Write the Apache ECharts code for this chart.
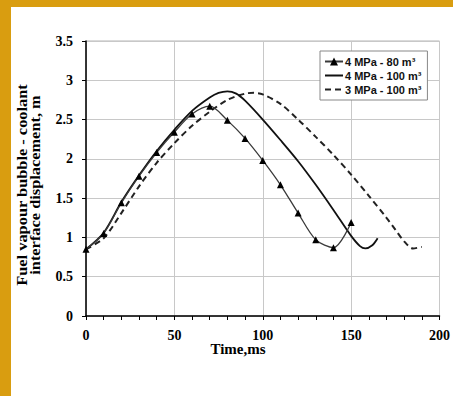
<!DOCTYPE html>
<html>
<head>
<meta charset="utf-8">
<script src="https://cdn.jsdelivr.net/npm/echarts@6/dist/echarts.min.js"></script>
<style>
  body { margin: 0; background: #fff; }
  #frame {
    width: 453px; height: 396px; box-sizing: border-box;
    background: #fff;
    border-top: 7px solid #D99D10;
    border-left: 11px solid #D99D10;
  }
  #chart { width: 442px; height: 389px; }
</style>
</head>
<body>
<div id="frame"><div id="chart"></div></div>
<script>
// 4 MPa - 80 m3 (markers every 10 ms)
const time80 = [0, 10, 20, 30, 40, 50, 60, 70, 80, 90, 100, 110, 120, 130, 140, 150];
const disp80 = [0.85, 1.05, 1.44, 1.78, 2.08, 2.34, 2.57, 2.67, 2.49, 2.26, 1.98, 1.67, 1.31, 0.97, 0.87, 1.19];

// 4 MPa - 100 m3
const time4x100 = [0, 10, 20, 30, 40, 50, 60, 70, 75, 80, 85, 90, 100, 110, 120, 130, 140, 150, 155, 158, 162, 165];
const disp4x100 = [0.85, 1.06, 1.45, 1.79, 2.1, 2.37, 2.61, 2.78, 2.84, 2.86, 2.83, 2.74, 2.5, 2.24, 1.97, 1.67, 1.35, 1.02, 0.89, 0.86, 0.9, 0.99];

// 3 MPa - 100 m3
const time3x100 = [0, 10, 20, 30, 40, 50, 60, 70, 80, 90, 95, 100, 110, 120, 130, 140, 150, 160, 170, 175, 180, 185, 190];
const disp3x100 = [0.85, 0.99, 1.31, 1.65, 1.95, 2.2, 2.42, 2.6, 2.75, 2.83, 2.84, 2.82, 2.7, 2.5, 2.28, 2.05, 1.8, 1.53, 1.25, 1.1, 0.95, 0.86, 0.88];

const seriesNames = ['4 MPa - 80 m³', '4 MPa - 100 m³', '3 MPa - 100 m³'];

const pairs = (xs, ys) => xs.map((x, i) => [x, ys[i]]);

const SERIF = '"Liberation Serif", "Times New Roman", serif';
const chart = echarts.init(document.getElementById('chart'), null, { renderer: 'svg' });

const option = {
  animation: false,
  backgroundColor: '#fff',
  grid: {
    left: 75, right: 6, top: 34, bottom: 80,
    show: true, borderColor: '#b4b4b4', borderWidth: 1,
  },
  legend: {
    orient: 'vertical',
    left: 309, top: 44,
    padding: [5, 6, 5, 4],
    itemGap: 3,
    itemWidth: 18,
    itemHeight: 10,
    backgroundColor: '#fff',
    borderColor: '#888',
    borderWidth: 1,
    data: [
      { name: seriesNames[0] },
      { name: seriesNames[1], itemStyle: { opacity: 0 } },
      { name: seriesNames[2], itemStyle: { opacity: 0 } },
    ],
    textStyle: { fontFamily: '"Liberation Sans", Arial, sans-serif', fontWeight: 'bold', fontSize: 11, color: '#111', padding: [0, 0, 0, -3] },
  },
  xAxis: {
    type: 'value',
    min: 0, max: 200, interval: 50,
    axisLine: { show: true, onZero: false, lineStyle: { color: '#000', width: 1.5 } },
    axisTick: { show: true, length: 4, lineStyle: { color: '#000' } },
    minorTick: { show: true, splitNumber: 5, length: 4, lineStyle: { color: '#000' } },
    axisLabel: { margin: 12, color: '#000', fontFamily: SERIF, fontWeight: 'bold', fontSize: 14 },
    splitLine: { show: true, lineStyle: { color: '#c8c8c8', width: 1 } },
  },
  yAxis: {
    type: 'value',
    min: 0, max: 3.5, interval: 0.5,
    axisLine: { show: true, onZero: false, lineStyle: { color: '#000', width: 1.5 } },
    axisTick: { show: true, length: 4, lineStyle: { color: '#000' } },
    axisLabel: { margin: 13, color: '#000', fontFamily: SERIF, fontWeight: 'bold', fontSize: 14 },
    splitLine: { show: true, lineStyle: { color: '#c8c8c8', width: 1 } },
  },
  graphic: [
    {
      type: 'text',
      x: 17, y: 178,
      rotation: Math.PI / 2,
      scaleX: 1.17,
      style: {
        text: 'Fuel vapour bubble - coolant\ninterface displacement, m',
        font: 'bold 14px ' + SERIF,
        lineHeight: 13,
        textAlign: 'center',
        textVerticalAlign: 'middle',
        fill: '#000',
      },
    },
    {
      type: 'text',
      x: 227, y: 342,
      style: {
        text: 'Time,ms',
        font: 'bold 15px ' + SERIF,
        textAlign: 'center',
        textVerticalAlign: 'middle',
        fill: '#000',
      },
    },
  ],
  series: [
    {
      name: seriesNames[0],
      type: 'line',
      smooth: 0.3,
      data: pairs(time80, disp80),
      symbol: 'triangle',
      symbolSize: 7,
      itemStyle: { color: '#000' },
      lineStyle: { color: '#3a3a3a', width: 1.3 },
      z: 4,
    },
    {
      name: seriesNames[1],
      type: 'line',
      smooth: 0.3,
      data: pairs(time4x100, disp4x100),
      showSymbol: false,
      itemStyle: { color: '#111' },
      lineStyle: { color: '#111', width: 1.8 },
      z: 3,
    },
    {
      name: seriesNames[2],
      type: 'line',
      smooth: 0.3,
      data: pairs(time3x100, disp3x100),
      showSymbol: false,
      itemStyle: { color: '#222' },
      lineStyle: { color: '#222', width: 2, type: [6, 4] },
      z: 2,
    },
  ],
};

chart.setOption(option);
</script>
</body>
</html>
